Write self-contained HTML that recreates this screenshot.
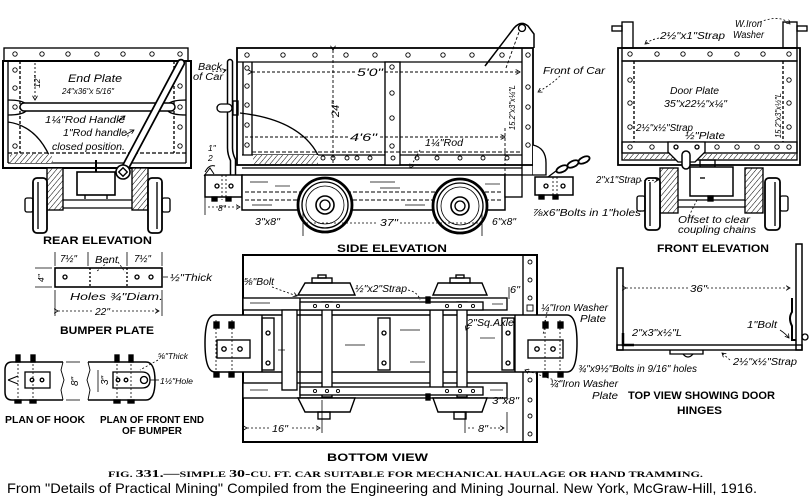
<!DOCTYPE html>
<html><head><meta charset="utf-8"><style>
html,body{margin:0;padding:0;background:#fff;}
svg{display:block}
.l{font-family:"Liberation Sans",sans-serif;font-style:italic;font-size:10px;fill:#000}
.s{font-family:"Liberation Sans",sans-serif;font-style:italic;font-size:8.5px;fill:#000}
.t{font-family:"Liberation Sans",sans-serif;font-weight:bold;font-size:11px;fill:#000}
</style></head><body>
<svg width="809" height="502" viewBox="0 0 809 502" xmlns="http://www.w3.org/2000/svg">
<defs>
<pattern id="hx" width="4" height="4" patternUnits="userSpaceOnUse" patternTransform="rotate(40)"><rect width="4" height="4" fill="#fff"/><line x1="0" y1="0" x2="0" y2="4" stroke="#000" stroke-width="1"/></pattern>
<marker id="a" markerWidth="6" markerHeight="6" refX="5" refY="3" orient="auto"><path d="M0,0 L5,3 L0,6" fill="none" stroke="#000" stroke-width="1"/></marker>
</defs>
<rect width="809" height="502" fill="#fff"/>

<!-- ================= REAR ELEVATION ================= -->
<g fill="none" stroke="#000" stroke-width="1.35">
<rect x="4" y="48" width="184" height="13"/>
<rect x="3" y="61" width="188" height="107" stroke-width="2"/>
<line x1="8" y1="61" x2="8" y2="163"/>
<line x1="186" y1="61" x2="186" y2="163"/>
<line x1="20" y1="61" x2="20" y2="153" stroke-dasharray="3,2"/>
<line x1="174" y1="61" x2="174" y2="153" stroke-dasharray="3,2"/>
<line x1="8" y1="153" x2="186" y2="153" stroke-dasharray="4,2"/>
<line x1="8" y1="163" x2="186" y2="163"/>
<g stroke-width="0.9">
<circle cx="15" cy="54" r="2.2"/><circle cx="42" cy="54" r="2.2"/><circle cx="68" cy="54" r="2.2"/><circle cx="97" cy="54" r="2.2"/><circle cx="123" cy="54" r="2.2"/><circle cx="152" cy="54" r="2.2"/><circle cx="180" cy="54" r="2.2"/>
<circle cx="15" cy="70" r="2.2"/><circle cx="15" cy="88" r="2.2"/><circle cx="15" cy="107" r="2.2"/><circle cx="15" cy="146" r="2.2"/>
<circle cx="180" cy="86" r="2.2"/><circle cx="180" cy="107" r="2.2"/><circle cx="180" cy="127" r="2.2"/><circle cx="180" cy="146" r="2.2"/>
</g>
<path d="M8,100 Q22,100 26,104 M8,115 Q22,115 26,111 M186,100 Q172,100 168,104 M186,115 Q172,115 168,111"/>
<rect x="20" y="103" width="155" height="8" rx="4" fill="#fff" stroke-width="1.5"/>
<path d="M8,122 Q38,126 52,162"/>
<rect x="10" y="154" width="42" height="9" fill="url(#hx)" stroke="none"/>
<line x1="181" y1="63" x2="124" y2="170" stroke-width="8.5" stroke-linecap="round"/>
<line x1="181" y1="63" x2="124" y2="170" stroke="#fff" stroke-width="5" stroke-linecap="round"/>
<circle cx="123" cy="172" r="7" fill="#fff" stroke-width="1.6"/>
<rect x="120" y="169" width="6" height="6" transform="rotate(45 123 172)"/>
<line x1="96" y1="160" x2="96" y2="172" stroke-width="2"/>
<rect x="77" y="172" width="38" height="23" fill="#fff" stroke-width="1.6"/>
<line x1="85" y1="195" x2="85" y2="199"/><line x1="107" y1="195" x2="107" y2="199"/>
<rect x="47" y="168" width="16" height="42" fill="url(#hx)"/>
<rect x="132" y="168" width="16" height="42" fill="url(#hx)"/>
<line x1="63" y1="200" x2="132" y2="200"/><line x1="63" y1="208" x2="132" y2="208"/>
<rect x="33" y="178" width="14" height="55" rx="4" fill="#fff" stroke-width="1.8"/>
<line x1="38" y1="182" x2="38" y2="229"/>
<rect x="25" y="198" width="8" height="14" rx="2"/>
<rect x="148" y="178" width="14" height="55" rx="4" fill="#fff" stroke-width="1.8"/>
<line x1="157" y1="182" x2="157" y2="229"/>
<rect x="162" y="198" width="8" height="14" rx="2"/>
<line x1="35" y1="63" x2="35" y2="100" stroke-dasharray="2,2" stroke-width="0.9" marker-end="url(#a)"/>
<path d="M118,121 L125,116" stroke-width="0.8" marker-end="url(#a)"/>
<path d="M125,135 L134,130" stroke-width="0.8" marker-end="url(#a)"/>
</g>
<text class="l" x="68" y="82" textLength="54" lengthAdjust="spacingAndGlyphs" style="font-size:11px">End Plate</text>
<text class="s" x="62" y="94" textLength="52" lengthAdjust="spacingAndGlyphs">24"x36"x 5/16"</text>
<text class="s" transform="translate(40,88) rotate(-90)">12"</text>
<text class="l" x="45" y="123" textLength="80" lengthAdjust="spacingAndGlyphs">1¼"Rod Handle</text>
<text class="l" x="63" y="136" textLength="67" lengthAdjust="spacingAndGlyphs">1"Rod handle,</text>
<text class="l" x="52" y="150" textLength="73" lengthAdjust="spacingAndGlyphs">closed position.</text>
<text class="t" x="43" y="244" textLength="109" lengthAdjust="spacingAndGlyphs">REAR ELEVATION</text>

<!-- ================= SIDE ELEVATION ================= -->
<g fill="none" stroke="#000" stroke-width="1.35">
<path d="M485,66 L514,28 Q521,20 528,26 L534,34 L534,48" stroke-width="1.5"/>
<circle cx="522" cy="28" r="3.5"/>
<line x1="506" y1="68" x2="519" y2="32" stroke-dasharray="3,2" stroke-width="0.9"/>
<rect x="237" y="48" width="296" height="117" stroke-width="1.8"/>
<line x1="237" y1="62" x2="522" y2="62"/>
<line x1="522" y1="48" x2="522" y2="175"/>
<line x1="533" y1="165" x2="533" y2="175"/>
<line x1="243" y1="62" x2="243" y2="155"/>
<line x1="252" y1="62" x2="252" y2="155"/>
<line x1="242" y1="155" x2="522" y2="155"/>
<line x1="242" y1="168" x2="522" y2="168"/>
<line x1="242" y1="175" x2="533" y2="175"/>
<rect x="385" y="62" width="15" height="103" fill="#fff"/>
<g stroke-width="0.9">
<circle cx="247" cy="55" r="2.2"/><circle cx="283" cy="55" r="2.2"/><circle cx="315" cy="55" r="2.2"/><circle cx="346" cy="55" r="2.2"/><circle cx="375" cy="55" r="2.2"/><circle cx="408" cy="55" r="2.2"/><circle cx="443" cy="55" r="2.2"/><circle cx="472" cy="55" r="2.2"/><circle cx="502" cy="55" r="2.2"/><circle cx="528" cy="55" r="2.2"/>
<circle cx="247" cy="68" r="2.2"/><circle cx="247" cy="86" r="2.2"/><circle cx="247" cy="105" r="2.2"/><circle cx="247" cy="125" r="2.2"/><circle cx="247" cy="145" r="2.2"/>
<circle cx="528" cy="87" r="2.2"/><circle cx="528" cy="107" r="2.2"/><circle cx="528" cy="127" r="2.2"/><circle cx="528" cy="145" r="2.2"/>
<circle cx="392" cy="67" r="2.2"/><circle cx="392" cy="93" r="2.2"/><circle cx="392" cy="118" r="2.2"/><circle cx="392" cy="146" r="2.2"/>
<circle cx="323" cy="158" r="2"/><circle cx="333" cy="158" r="2"/><circle cx="347" cy="158" r="2"/><circle cx="357" cy="158" r="2"/><circle cx="370" cy="158" r="2"/><circle cx="393" cy="158" r="2"/><circle cx="417" cy="158" r="2"/><circle cx="437" cy="158" r="2"/><circle cx="460" cy="158" r="2"/><circle cx="483" cy="158" r="2"/><circle cx="507" cy="158" r="2"/>
</g>
<line x1="252" y1="152" x2="522" y2="152" stroke-dasharray="4,2" stroke-width="0.9"/>
<path d="M240,113 Q300,120 318,155"/>
<rect x="253" y="155" width="65" height="9" fill="url(#hx)" stroke="none"/>
<line x1="252" y1="72" x2="355" y2="72" stroke-dasharray="3,2" stroke-width="0.9" marker-start="url(#a)"/>
<line x1="385" y1="72" x2="520" y2="72" stroke-dasharray="3,2" stroke-width="0.9" marker-end="url(#a)"/>
<line x1="333" y1="50" x2="333" y2="165" stroke-dasharray="3,2" stroke-width="0.9" marker-start="url(#a)"/>
<line x1="245" y1="137" x2="348" y2="137" stroke-dasharray="3,2" stroke-width="0.9"/>
<line x1="380" y1="137" x2="505" y2="137" stroke-dasharray="3,2" stroke-width="0.9" marker-end="url(#a)"/>
<line x1="505" y1="128" x2="505" y2="175" stroke-dasharray="3,2" stroke-width="0.9"/>
<line x1="420" y1="150" x2="410" y2="168" stroke-dasharray="2,2" stroke-width="0.8" marker-end="url(#a)"/>
<path d="M230,62 L230,148 Q230,154 233,160 L233,176" stroke-width="6.5" stroke-linecap="round"/>
<path d="M230,62 L230,148 Q230,154 233,160 L233,176" stroke="#fff" stroke-width="3.5" stroke-linecap="round"/>
<rect x="217" y="104" width="15" height="8" rx="4" fill="#fff"/>
<rect x="233" y="101" width="5" height="14"/>
<path d="M205,172 Q209,164 215,166 M204,176 L210,168 L214,174" stroke-width="1"/>
<rect x="205" y="175" width="37" height="22" fill="#fff" stroke-width="1.5"/>
<line x1="222" y1="175" x2="222" y2="200" stroke-dasharray="2,2" stroke-width="0.8"/>
<line x1="226" y1="175" x2="226" y2="200" stroke-dasharray="2,2" stroke-width="0.8"/>
<circle cx="217" cy="186" r="2"/><circle cx="231" cy="186" r="2"/>
<rect x="212" y="197" width="5" height="4" fill="#000"/><rect x="226" y="197" width="5" height="4" fill="#000"/>
<line x1="205" y1="197" x2="205" y2="215" stroke-width="0.8"/>
<line x1="208" y1="207" x2="240" y2="207" stroke-dasharray="2,2" stroke-width="0.8" marker-end="url(#a)"/>
<path d="M533,145 Q546,148 546,163 L546,175 L533,175" fill="#fff"/>
<rect x="535" y="177" width="38" height="18" fill="#fff" stroke-width="1.5"/>
<line x1="553" y1="177" x2="553" y2="199" stroke-dasharray="2,2" stroke-width="0.8"/>
<line x1="557" y1="177" x2="557" y2="199" stroke-dasharray="2,2" stroke-width="0.8"/>
<circle cx="546" cy="186" r="2"/><circle cx="563" cy="186" r="2"/>
<rect x="539" y="195" width="5" height="4" fill="#000"/><rect x="553" y="195" width="5" height="4" fill="#000"/>
<path d="M548,177 L556,171"/>
<ellipse cx="562" cy="169" rx="6" ry="3" transform="rotate(-25 562 169)" stroke-width="1.8"/>
<ellipse cx="573" cy="164" rx="6" ry="3" transform="rotate(-25 573 164)" stroke-width="1.8"/>
<ellipse cx="584" cy="160" rx="6" ry="3" transform="rotate(-25 584 160)" stroke-width="1.8"/>
<rect x="242" y="175" width="263" height="35" fill="#fff" stroke-width="1.5"/>
<rect x="505" y="175" width="17" height="22" fill="#fff"/>
<line x1="245" y1="192" x2="502" y2="192" stroke-dasharray="4,2" stroke-width="0.9"/>
<line x1="245" y1="200" x2="502" y2="200" stroke-dasharray="4,2" stroke-width="0.9"/>
<g stroke-width="0.7">
<line x1="250" y1="182" x2="268" y2="182"/><line x1="275" y1="186" x2="290" y2="186"/><line x1="252" y1="205" x2="272" y2="205"/><line x1="370" y1="182" x2="395" y2="182"/><line x1="380" y1="188" x2="400" y2="188"/><line x1="405" y1="205" x2="425" y2="205"/><line x1="485" y1="184" x2="500" y2="184"/>
</g>
<circle cx="325" cy="205" r="27" fill="#fff" stroke-width="2.8"/>
<circle cx="325" cy="205" r="23"/>
<circle cx="325" cy="205" r="19" stroke-width="0.8"/>
<circle cx="325" cy="205" r="9" stroke-width="1.6"/>
<circle cx="325" cy="205" r="5"/>
<circle cx="460" cy="206" r="27" fill="#fff" stroke-width="2.8"/>
<circle cx="460" cy="206" r="23"/>
<circle cx="460" cy="206" r="19" stroke-width="0.8"/>
<circle cx="460" cy="206" r="9" stroke-width="1.6"/>
<circle cx="460" cy="206" r="5"/>
<line x1="303" y1="213" x2="303" y2="236" stroke-width="0.8"/>
<line x1="482" y1="213" x2="482" y2="236" stroke-width="0.8"/>
<line x1="306" y1="223" x2="377" y2="223" stroke-dasharray="2,2" stroke-width="0.8"/>
<line x1="400" y1="223" x2="479" y2="223" stroke-dasharray="2,2" stroke-width="0.8"/>
<path d="M212,71 Q218,72 226,70" stroke-dasharray="2,2" stroke-width="0.8" marker-end="url(#a)"/>
<path d="M560,76 Q552,84 538,92" stroke-dasharray="2,2" stroke-width="0.8" marker-end="url(#a)"/>
</g>
<text class="l" x="198" y="70" textLength="24" lengthAdjust="spacingAndGlyphs">Back</text>
<text class="l" x="193" y="80" textLength="30" lengthAdjust="spacingAndGlyphs">of Car</text>
<text class="s" x="208" y="151">1"</text>
<text class="s" x="208" y="161">2</text>
<text class="l" x="357" y="76" textLength="26" lengthAdjust="spacingAndGlyphs" style="font-size:11px">5'0"</text>
<text class="l" transform="translate(339,117) rotate(-90)" style="font-size:11px">24"</text>
<text class="l" x="350" y="141" textLength="27" lengthAdjust="spacingAndGlyphs" style="font-size:11px">4'6"</text>
<text class="l" x="425" y="146" textLength="38" lengthAdjust="spacingAndGlyphs">1¼"Rod</text>
<text class="l" x="543" y="74" textLength="62" lengthAdjust="spacingAndGlyphs">Front of Car</text>
<text class="s" transform="translate(515,130) rotate(-90)" textLength="45" lengthAdjust="spacingAndGlyphs">15.2"x3"x¼"L</text>
<text class="l" x="255" y="225" textLength="25" lengthAdjust="spacingAndGlyphs">3"x8"</text>
<text class="l" x="380" y="226" textLength="18" lengthAdjust="spacingAndGlyphs">37"</text>
<text class="l" x="492" y="225" textLength="24" lengthAdjust="spacingAndGlyphs">6"x8"</text>
<text class="l" x="533" y="216" textLength="108" lengthAdjust="spacingAndGlyphs">⅞x6"Bolts in 1"holes</text>
<text class="s" x="218" y="211">8"</text>
<text class="t" x="337" y="252" textLength="110" lengthAdjust="spacingAndGlyphs">SIDE ELEVATION</text>

<!-- ================= FRONT ELEVATION ================= -->
<g fill="none" stroke="#000" stroke-width="1.35">
<rect x="622" y="22" width="11" height="26"/>
<rect x="783" y="22" width="14" height="26"/>
<rect x="612" y="26" width="10" height="5"/>
<rect x="797" y="26" width="10" height="5"/>
<rect x="618" y="48" width="182" height="117" stroke-width="1.8"/>
<rect x="622" y="48" width="175" height="13"/>
<rect x="622" y="61" width="175" height="99"/>
<line x1="634" y1="61" x2="634" y2="142" stroke-dasharray="3,2"/>
<line x1="783" y1="61" x2="783" y2="142" stroke-dasharray="3,2"/>
<rect x="622" y="142" width="175" height="11"/>
<rect x="624" y="154" width="172" height="5" fill="url(#hx)" stroke="none"/>
<g stroke-width="0.9">
<circle cx="630" cy="54" r="2.2"/><circle cx="657" cy="54" r="2.2"/><circle cx="683" cy="54" r="2.2"/><circle cx="710" cy="54" r="2.2"/><circle cx="737" cy="54" r="2.2"/><circle cx="763" cy="54" r="2.2"/><circle cx="789" cy="54" r="2.2"/>
<circle cx="630" cy="80" r="2.2"/><circle cx="630" cy="103" r="2.2"/><circle cx="630" cy="127" r="2.2"/>
<circle cx="789" cy="80" r="2.2"/><circle cx="789" cy="103" r="2.2"/><circle cx="789" cy="127" r="2.2"/>
<circle cx="630" cy="147" r="2.2"/><circle cx="652" cy="147" r="2.2"/><circle cx="717" cy="147" r="2.2"/><circle cx="737" cy="147" r="2.2"/><circle cx="757" cy="147" r="2.2"/><circle cx="777" cy="147" r="2.2"/><circle cx="789" cy="147" r="2.2"/>
</g>
<path d="M668,142 L705,142 L705,152 L695,162 L678,162 L668,152 Z" fill="#fff"/>
<circle cx="676" cy="147" r="2"/><circle cx="697" cy="147" r="2"/>
<rect x="682" y="151" width="8" height="18" rx="4" fill="#fff" stroke-width="1.5"/>
<rect x="700" y="160" width="15" height="7"/>
<rect x="690" y="167" width="43" height="29" fill="#fff" stroke-width="1.5"/>
<line x1="700" y1="178" x2="705" y2="178"/>
<rect x="708" y="196" width="5" height="5" fill="#000"/>
<rect x="660" y="168" width="18" height="45" fill="url(#hx)"/>
<rect x="745" y="168" width="18" height="45" fill="url(#hx)"/>
<line x1="678" y1="200" x2="745" y2="200"/><line x1="678" y1="207" x2="745" y2="207"/>
<rect x="645" y="178" width="15" height="52" rx="4" fill="#fff" stroke-width="1.8"/>
<line x1="650" y1="182" x2="650" y2="226"/>
<rect x="637" y="196" width="8" height="15" rx="2"/>
<rect x="765" y="178" width="15" height="52" rx="4" fill="#fff" stroke-width="1.8"/>
<line x1="775" y1="182" x2="775" y2="226"/>
<rect x="780" y="196" width="8" height="15" rx="2"/>
<line x1="697" y1="200" x2="688" y2="218" stroke-dasharray="2,2" stroke-width="0.8"/>
<path d="M659,38 Q650,40 645,44" stroke-dasharray="2,2" stroke-width="0.8" marker-end="url(#a)"/>
<path d="M760,22 Q780,14 790,24" stroke-dasharray="2,2" stroke-width="0.8" marker-end="url(#a)"/>
<path d="M640,181 L658,180" stroke-dasharray="2,2" stroke-width="0.8" marker-end="url(#a)"/>
</g>
<text class="l" x="660" y="39" textLength="65" lengthAdjust="spacingAndGlyphs">2½"x1"Strap</text>
<text class="l" x="735" y="27" textLength="27" lengthAdjust="spacingAndGlyphs">W.Iron</text>
<text class="l" x="733" y="38" textLength="31" lengthAdjust="spacingAndGlyphs">Washer</text>
<text class="l" x="670" y="94" textLength="49" lengthAdjust="spacingAndGlyphs">Door Plate</text>
<text class="l" x="664" y="107" textLength="63" lengthAdjust="spacingAndGlyphs">35"x22½"x¼"</text>
<text class="l" x="636" y="131" textLength="57" lengthAdjust="spacingAndGlyphs">2½"x½"Strap</text>
<text class="l" x="685" y="139" textLength="40" lengthAdjust="spacingAndGlyphs">½"Plate</text>
<text class="s" transform="translate(781,138) rotate(-90)" textLength="45" lengthAdjust="spacingAndGlyphs">15.2"x3"x½"L</text>
<text class="l" x="596" y="183" textLength="45" lengthAdjust="spacingAndGlyphs">2"x1"Strap</text>
<text class="l" x="678" y="223" textLength="72" lengthAdjust="spacingAndGlyphs">Offset to clear</text>
<text class="l" x="678" y="233" textLength="78" lengthAdjust="spacingAndGlyphs">coupling chains</text>
<text class="t" x="657" y="252" textLength="112" lengthAdjust="spacingAndGlyphs">FRONT ELEVATION</text>

<!-- ================= BUMPER PLATE ================= -->
<g fill="none" stroke="#000" stroke-width="1.35">
<rect x="55" y="268" width="107" height="19" stroke-width="1.6"/>
<line x1="90" y1="268" x2="90" y2="287" stroke-dasharray="2,2"/>
<line x1="127" y1="268" x2="127" y2="287" stroke-dasharray="2,2"/>
<circle cx="65" cy="277" r="2"/><circle cx="137" cy="277" r="2"/><circle cx="151" cy="277" r="2"/>
<line x1="55" y1="252" x2="55" y2="266" stroke-width="0.8"/>
<line x1="88" y1="252" x2="88" y2="266" stroke-width="0.8"/>
<line x1="127" y1="252" x2="127" y2="266" stroke-width="0.8"/>
<line x1="162" y1="252" x2="162" y2="266" stroke-width="0.8"/>
<line x1="55" y1="290" x2="55" y2="316" stroke-width="0.8"/>
<line x1="162" y1="290" x2="162" y2="316" stroke-width="0.8"/>
<line x1="58" y1="311" x2="92" y2="311" stroke-dasharray="2,2" stroke-width="0.8" marker-start="url(#a)"/>
<line x1="112" y1="311" x2="159" y2="311" stroke-dasharray="2,2" stroke-width="0.8" marker-end="url(#a)"/>
<line x1="35" y1="268" x2="52" y2="268" stroke-width="0.8"/>
<line x1="35" y1="287" x2="52" y2="287" stroke-width="0.8"/>
<path d="M108,262 L96,272 M118,262 L125,272" stroke-dasharray="2,2" stroke-width="0.8"/>
<line x1="168" y1="277" x2="163" y2="277" stroke-width="0.8"/>
<!-- plan of hook -->
<path d="M63,362 L12,362 Q5,362 5,370 L5,392 Q5,400 12,400 L63,400" stroke-width="1.5"/>
<path d="M63,362 L61,370 L64,380 L61,390 L63,400" stroke-width="0.9"/>
<rect x="25" y="372" width="25" height="16" stroke-width="1.3"/>
<circle cx="32" cy="380" r="1.8"/><circle cx="42" cy="380" r="1.8"/>
<path d="M8,380 L18,376 M8,380 L18,384" stroke-width="1"/>
<line x1="18" y1="356" x2="18" y2="402" stroke-dasharray="2,2" stroke-width="0.8"/>
<line x1="33" y1="356" x2="33" y2="402" stroke-dasharray="2,2" stroke-width="0.8"/>
<rect x="16" y="355" width="4" height="7" fill="#000"/><rect x="31" y="355" width="4" height="7" fill="#000"/>
<rect x="15" y="400" width="6" height="3" fill="#000"/><rect x="30" y="400" width="6" height="3" fill="#000"/>
<line x1="66" y1="362" x2="80" y2="362" stroke-width="0.8"/><line x1="66" y1="400" x2="80" y2="400" stroke-width="0.8"/>
<!-- plan of front end -->
<path d="M88,362 L146,362 Q155,362 155,381 Q155,400 146,400 L88,400" stroke-width="1.5"/>
<path d="M88,362 L90,370 L87,380 L90,390 L88,400" stroke-width="0.9"/>
<path d="M113,372 L142,372 Q150,372 150,380 Q150,388 142,388 L113,388 Z"/>
<circle cx="118" cy="380" r="1.8"/><circle cx="126" cy="380" r="1.8"/>
<circle cx="144" cy="380" r="3.5"/>
<line x1="117" y1="356" x2="117" y2="402" stroke-dasharray="2,2" stroke-width="0.8"/>
<line x1="131" y1="356" x2="131" y2="402" stroke-dasharray="2,2" stroke-width="0.8"/>
<rect x="115" y="355" width="4" height="7" fill="#000"/><rect x="129" y="355" width="4" height="7" fill="#000"/>
<rect x="114" y="400" width="6" height="3" fill="#000"/><rect x="128" y="400" width="6" height="3" fill="#000"/>
<line x1="98" y1="370" x2="98" y2="392" stroke-width="0.8"/>
<path d="M158,360 L140,370" stroke-dasharray="2,2" stroke-width="0.8"/>
<path d="M159,380 L150,380" stroke-width="0.8"/>
</g>
<text class="l" x="60" y="262" textLength="17" lengthAdjust="spacingAndGlyphs">7½"</text>
<text class="l" x="95" y="263" textLength="23" lengthAdjust="spacingAndGlyphs">Bent</text>
<text class="l" x="134" y="262" textLength="17" lengthAdjust="spacingAndGlyphs">7½"</text>
<text class="l" x="170" y="281" textLength="42" lengthAdjust="spacingAndGlyphs">½"Thick</text>
<text class="l" x="70" y="300" textLength="93" lengthAdjust="spacingAndGlyphs">Holes ¾"Diam.</text>
<text class="l" x="95" y="315" textLength="15" lengthAdjust="spacingAndGlyphs">22"</text>
<text class="s" transform="translate(44,282) rotate(-90)">4"</text>
<text class="t" x="60" y="334" textLength="94" lengthAdjust="spacingAndGlyphs">BUMPER PLATE</text>
<text class="s" x="158" y="359" textLength="30" lengthAdjust="spacingAndGlyphs">⅝"Thick</text>
<text class="s" x="160" y="384" textLength="33" lengthAdjust="spacingAndGlyphs">1½"Hole</text>
<text class="l" transform="translate(78,386) rotate(-90)">8"</text>
<text class="l" transform="translate(108,385) rotate(-90)">3"</text>
<text class="t" x="5" y="423" textLength="80" lengthAdjust="spacingAndGlyphs" style="font-size:10px">PLAN OF HOOK</text>
<text class="t" x="100" y="423" textLength="104" lengthAdjust="spacingAndGlyphs" style="font-size:10px">PLAN OF FRONT END</text>
<text class="t" x="122" y="434" textLength="60" lengthAdjust="spacingAndGlyphs" style="font-size:10px">OF BUMPER</text>

<!-- ================= BOTTOM VIEW ================= -->
<g fill="none" stroke="#000" stroke-width="1.35">
<rect x="243" y="255" width="294" height="187" stroke-width="2"/>
<line x1="523" y1="255" x2="523" y2="442"/>
<g stroke-width="0.9">
<circle cx="530" cy="262" r="2"/><circle cx="530" cy="280" r="2"/><circle cx="530" cy="298" r="2"/><rect x="527" y="305" width="6" height="6"/>
<circle cx="530" cy="380" r="2"/><circle cx="530" cy="400" r="2"/><circle cx="530" cy="416" r="2"/><circle cx="530" cy="434" r="2"/>
</g>
<rect x="243" y="298" width="264" height="12" fill="#fff"/>
<rect x="243" y="383" width="264" height="15" fill="#fff"/>
<path d="M215,315 L567,315 Q577,315 577,343 Q577,372 567,372 L215,372 Q205,372 205,343 Q205,315 215,315 Z" fill="#fff" stroke-width="1.5"/>
<line x1="262" y1="315" x2="262" y2="372"/>
<line x1="515" y1="315" x2="515" y2="372"/>
<rect x="262" y="318" width="12" height="52"/>
<circle cx="268" cy="333" r="2"/><circle cx="268" cy="363" r="2"/>
<rect x="378" y="318" width="12" height="52"/>
<circle cx="384" cy="333" r="2"/><circle cx="384" cy="363" r="2"/>
<rect x="502" y="318" width="12" height="52"/>
<circle cx="508" cy="333" r="2"/><circle cx="508" cy="363" r="2"/>
<rect x="217" y="340" width="33" height="18"/>
<circle cx="224" cy="349" r="2.2"/><circle cx="240" cy="349" r="2.2"/>
<rect x="528" y="340" width="35" height="18"/>
<circle cx="537" cy="349" r="2.2"/><circle cx="553" cy="349" r="2.2"/>
<line x1="216" y1="320" x2="216" y2="376" stroke-dasharray="2,2" stroke-width="0.8"/>
<line x1="232" y1="320" x2="232" y2="376" stroke-dasharray="2,2" stroke-width="0.8"/>
<line x1="545" y1="320" x2="545" y2="376" stroke-dasharray="2,2" stroke-width="0.8"/>
<line x1="560" y1="320" x2="560" y2="376" stroke-dasharray="2,2" stroke-width="0.8"/>
<rect x="214" y="322" width="5" height="6" fill="#000"/><rect x="229" y="322" width="5" height="6" fill="#000"/>
<rect x="214" y="372" width="5" height="5" fill="#000"/><rect x="229" y="372" width="5" height="5" fill="#000"/>
<rect x="543" y="322" width="5" height="6" fill="#000"/><rect x="558" y="322" width="5" height="6" fill="#000"/>
<rect x="543" y="372" width="5" height="5" fill="#000"/><rect x="558" y="372" width="5" height="5" fill="#000"/>
<rect x="282" y="310" width="15" height="80" fill="#fff"/>
<rect x="430" y="310" width="13" height="80" fill="#fff"/>
<line x1="300" y1="298" x2="300" y2="398"/>
<rect x="322" y="302" width="10" height="95" fill="#fff"/>
<rect x="457" y="302" width="10" height="95" fill="#fff"/>
<rect x="300" y="302" width="183" height="8" fill="#fff"/>
<rect x="300" y="387" width="183" height="8" fill="#fff"/>
<g stroke-width="0.9">
<circle cx="315" cy="306" r="1.6"/><circle cx="327" cy="306" r="1.6"/><circle cx="338" cy="306" r="1.6"/><circle cx="447" cy="306" r="1.6"/><circle cx="460" cy="306" r="1.6"/><circle cx="473" cy="306" r="1.6"/>
<circle cx="315" cy="391" r="1.6"/><circle cx="327" cy="391" r="1.6"/><circle cx="338" cy="391" r="1.6"/><circle cx="447" cy="391" r="1.6"/><circle cx="460" cy="391" r="1.6"/><circle cx="473" cy="391" r="1.6"/>
</g>
<path d="M298,295 L355,295 L350,283 L305,283 Z" fill="#fff" stroke-width="1.4"/>
<rect x="312" y="278" width="20" height="5"/><rect x="318" y="275" width="8" height="3"/>
<path d="M433,295 L487,295 L482,283 L438,283 Z" fill="#fff" stroke-width="1.4"/>
<rect x="450" y="278" width="20" height="5"/><rect x="456" y="275" width="8" height="3"/>
<path d="M298,398 L355,398 L350,412 L305,412 Z" fill="#fff" stroke-width="1.4"/>
<rect x="318" y="412" width="12" height="7"/>
<path d="M433,398 L487,398 L482,412 L438,412 Z" fill="#fff" stroke-width="1.4"/>
<rect x="454" y="412" width="12" height="7"/>
<rect x="426" y="297" width="4" height="6" fill="#000"/>
<rect x="426" y="394" width="4" height="6" fill="#000"/>
<g stroke-width="0.7">
<line x1="250" y1="303" x2="270" y2="303"/><line x1="492" y1="304" x2="503" y2="304"/><line x1="250" y1="390" x2="268" y2="390"/><line x1="490" y1="390" x2="503" y2="390"/>
<line x1="345" y1="345" x2="365" y2="345"/><line x1="400" y1="330" x2="420" y2="330"/><line x1="410" y1="362" x2="425" y2="362"/><line x1="480" y1="338" x2="495" y2="338"/><line x1="278" y1="350" x2="285" y2="350"/>
</g>
<line x1="322" y1="400" x2="322" y2="433" stroke-width="0.8"/>
<line x1="247" y1="428" x2="270" y2="428" stroke-dasharray="2,2" stroke-width="0.8" marker-start="url(#a)"/>
<line x1="292" y1="428" x2="320" y2="428" stroke-dasharray="2,2" stroke-width="0.8" marker-end="url(#a)"/>
<line x1="465" y1="412" x2="465" y2="433" stroke-width="0.8"/>
<line x1="507" y1="412" x2="507" y2="433" stroke-width="0.8"/>
<line x1="468" y1="428" x2="476" y2="428" stroke-dasharray="2,2" stroke-width="0.8"/>
<line x1="490" y1="428" x2="504" y2="428" stroke-dasharray="2,2" stroke-width="0.8" marker-end="url(#a)"/>
<line x1="509" y1="287" x2="509" y2="299" stroke-width="0.8"/>
<path d="M272,287 L297,296" stroke-dasharray="2,2" stroke-width="0.8" marker-end="url(#a)"/>
<path d="M408,290 Q418,292 420,300" stroke-dasharray="2,2" stroke-width="0.8"/>
<path d="M468,325 L466,330" stroke-width="0.8" marker-end="url(#a)"/>
<path d="M547,312 L543,335" stroke-dasharray="2,2" stroke-width="0.8"/>
<path d="M560,382 L525,370" stroke-dasharray="2,2" stroke-width="0.8" marker-end="url(#a)"/>
</g>
<text class="l" x="244" y="285" textLength="30" lengthAdjust="spacingAndGlyphs">⅝"Bolt</text>
<text class="l" x="355" y="292" textLength="52" lengthAdjust="spacingAndGlyphs">½"x2"Strap</text>
<text class="l" x="510" y="293" textLength="10" lengthAdjust="spacingAndGlyphs">6"</text>
<text class="l" x="541" y="311" textLength="67" lengthAdjust="spacingAndGlyphs">¼"Iron Washer</text>
<text class="l" x="580" y="322" textLength="26" lengthAdjust="spacingAndGlyphs">Plate</text>
<text class="l" x="467" y="326" textLength="47" lengthAdjust="spacingAndGlyphs">2"Sq.Axle</text>
<text class="l" x="578" y="372" textLength="119" lengthAdjust="spacingAndGlyphs">¾"x9½"Bolts in 9/16" holes</text>
<text class="l" x="550" y="387" textLength="68" lengthAdjust="spacingAndGlyphs">¼"Iron Washer</text>
<text class="l" x="592" y="399" textLength="26" lengthAdjust="spacingAndGlyphs">Plate</text>
<text class="l" x="492" y="404" textLength="27" lengthAdjust="spacingAndGlyphs">3"x8"</text>
<text class="l" x="272" y="432" textLength="16" lengthAdjust="spacingAndGlyphs">16"</text>
<text class="l" x="478" y="432" textLength="10" lengthAdjust="spacingAndGlyphs">8"</text>
<text class="t" x="327" y="461" textLength="101" lengthAdjust="spacingAndGlyphs">BOTTOM VIEW</text>

<!-- ================= TOP VIEW ================= -->
<g fill="none" stroke="#000" stroke-width="1.35">
<rect x="617" y="268" width="6" height="82" stroke-width="1.5"/>
<rect x="796" y="244" width="6" height="106" stroke-width="1.5"/>
<rect x="617" y="345" width="185" height="5" stroke-width="1.4"/>
<path d="M623,333 L623,345 L634,345" stroke-width="2.5"/>
<path d="M792,298 L792,312 Q788,318 792,326 L792,340 L796,340" stroke-width="2"/>
<circle cx="805" cy="337" r="3"/>
<path d="M670,350 L670,354 L703,354 L703,350"/>
<path d="M683,354 Q688,360 693,354"/>
<line x1="626" y1="288" x2="690" y2="288" stroke-dasharray="2,2" stroke-width="0.8" marker-start="url(#a)"/>
<line x1="707" y1="288" x2="790" y2="288" stroke-dasharray="2,2" stroke-width="0.8" marker-end="url(#a)"/>
<path d="M780,330 Q786,334 789,338" stroke-width="0.8" marker-end="url(#a)"/>
<path d="M730,360 L722,353" stroke-dasharray="2,2" stroke-width="0.8" marker-end="url(#a)"/>
</g>
<text class="l" x="690" y="292" textLength="17" lengthAdjust="spacingAndGlyphs">36"</text>
<text class="l" x="632" y="336" textLength="50" lengthAdjust="spacingAndGlyphs">2"x3"x½"L</text>
<text class="l" x="747" y="328" textLength="30" lengthAdjust="spacingAndGlyphs">1"Bolt</text>
<text class="l" x="733" y="365" textLength="64" lengthAdjust="spacingAndGlyphs">2½"x½"Strap</text>
<text class="t" x="628" y="399" textLength="147" lengthAdjust="spacingAndGlyphs">TOP VIEW SHOWING DOOR</text>
<text class="t" x="677" y="414" textLength="45" lengthAdjust="spacingAndGlyphs">HINGES</text>

<!-- ================= CAPTION ================= -->
<text x="108" y="477" textLength="595" lengthAdjust="spacingAndGlyphs" style="font-family:'Liberation Serif',serif;font-weight:bold;font-size:8px;fill:#000"><tspan>FIG. </tspan><tspan style="font-size:10.5px">331.—</tspan><tspan>SIMPLE </tspan><tspan style="font-size:10.5px">30-</tspan><tspan>CU. FT. CAR SUITABLE FOR MECHANICAL HAULAGE OR HAND TRAMMING.</tspan></text>
<text x="7" y="493" textLength="750" lengthAdjust="spacingAndGlyphs" style="font-family:'Liberation Sans',sans-serif;font-size:14px;fill:#000">From "Details of Practical Mining" Compiled from the Engineering and Mining Journal. New York, McGraw-Hill, 1916.</text>
</svg>
</body></html>
